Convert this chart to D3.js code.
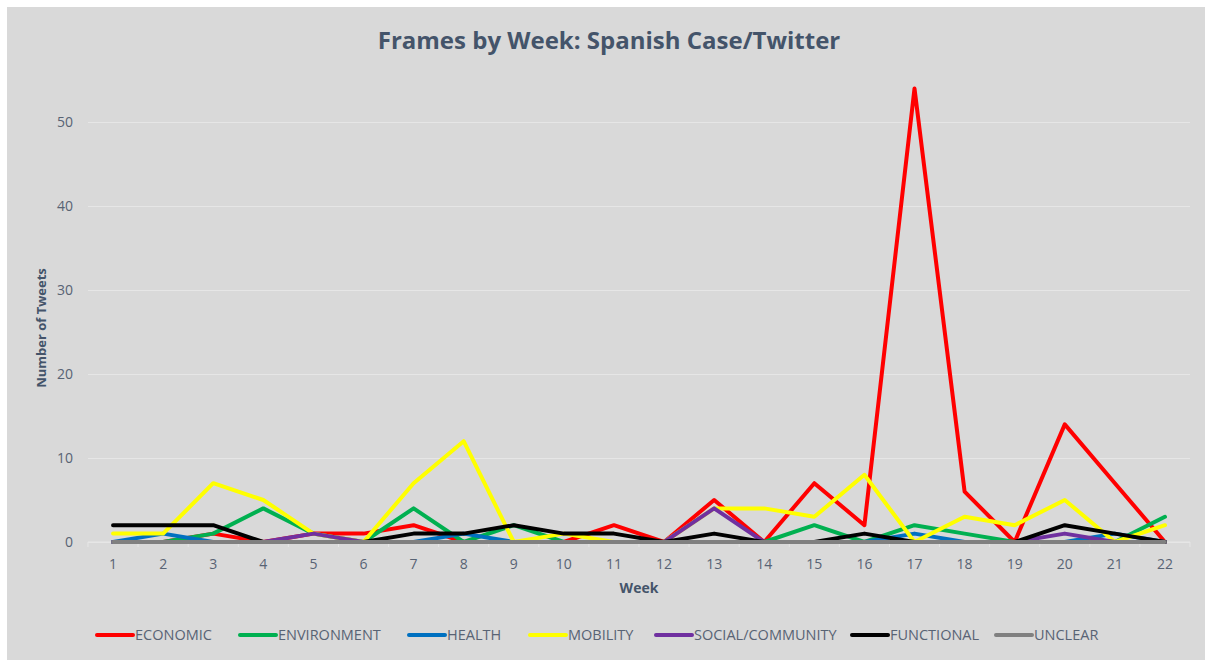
<!DOCTYPE html>
<html>
<head>
<meta charset="utf-8">
<script src="https://cdn.jsdelivr.net/npm/d3@7"></script>
<style>
  body { margin: 0; background: #fff; }
  text { font-family: "Open Sans", "Noto Sans", sans-serif; }
</style>
</head>
<body>
<div id="chart-area"></div>
<script>
// data
var weeks = d3.range(1, 23)
var yTicks = [0, 10, 20, 30, 40, 50]

var economic    = [0, 0, 1, 0, 1, 1, 2, 0, 0, 0, 2, 0, 5, 0, 7, 2, 54, 6, 0, 14, 7, 0]
var environment = [0, 0, 1, 4, 1, 0, 4, 0, 2, 0, 0, 0, 0, 0, 2, 0, 2, 1, 0, 0, 0, 3]
var health      = [0, 1, 0, 0, 0, 0, 0, 1, 0, 0, 0, 0, 0, 0, 0, 0, 1, 0, 0, 0, 1, 0]
var mobility    = [1, 1, 7, 5, 1, 0, 7, 12, 0, 1, 0, 0, 4, 4, 3, 8, 0, 3, 2, 5, 0, 2]
var social      = [0, 0, 0, 0, 1, 0, 0, 0, 0, 0, 0, 0, 4, 0, 0, 0, 0, 0, 0, 1, 0, 0]
var functional  = [2, 2, 2, 0, 0, 0, 1, 1, 2, 1, 1, 0, 1, 0, 0, 1, 0, 0, 0, 2, 1, 0]
var unclear     = [0, 0, 0, 0, 0, 0, 0, 0, 0, 0, 0, 0, 0, 0, 0, 0, 0, 0, 0, 0, 0, 0]

var series = [
	{ name: "ECONOMIC", values: economic, color: "#FF0000" },
	{ name: "ENVIRONMENT", values: environment, color: "#00B050" },
	{ name: "HEALTH", values: health, color: "#0070C0" },
	{ name: "MOBILITY", values: mobility, color: "#FFFF00" },
	{ name: "SOCIAL/COMMUNITY", values: social, color: "#7030A0" },
	{ name: "FUNCTIONAL", values: functional, color: "#000000" },
	{ name: "UNCLEAR", values: unclear, color: "#808080" }
]

var W = 1205, H = 660
var margin = { left: 88, right: 15, top: 122, bottom: 118 }
var width = W - margin.left - margin.right   // 1102
var height = H - margin.top - margin.bottom  // 420

var svg = d3.select("#chart-area")
	.append("svg")
	.attr("width", W)
	.attr("height", H)

svg.append("rect")
	.attr("x", 7).attr("y", 7)
	.attr("width", W - 7).attr("height", H - 7)
	.attr("fill", "#d9d9d9")

svg.append("text")
	.attr("x", 609).attr("y", 49)
	.attr("text-anchor", "middle")
	.attr("font-size", 24)
	.attr("font-weight", "bold")
	.attr("fill", "#44546A")
	.text("Frames by Week: Spanish Case/Twitter")

var g = svg.append("g")
	.attr("transform", "translate(" + margin.left + "," + margin.top + ")")

var x = d3.scaleBand()
	.domain(weeks)
	.range([0, width])

var y = d3.scaleLinear()
	.domain([0, 50])
	.range([height, 0])

// gridlines
g.append("g")
	.attr("class", "grid")
	.call(d3.axisLeft(y).tickValues(yTicks).tickSize(-width).tickFormat(""))
	.call(function (s) {
		s.select(".domain").remove()
		s.selectAll("line").attr("stroke", "#e6e6e6").attr("stroke-width", 1)
	})

// y labels
g.append("g")
	.call(d3.axisLeft(y).tickValues(yTicks).tickSize(0).tickPadding(15))
	.call(function (s) {
		s.select(".domain").remove()
		s.selectAll("text")
			.attr("font-size", 14)
			.attr("fill", "#586374")
			.style("font-family", "'Open Sans', sans-serif")
	})

// x axis: ticks between categories
var xAxis = g.append("g")
	.attr("transform", "translate(0," + height + ")")
xAxis.append("line")
	.attr("x1", 0).attr("x2", width)
	.attr("stroke", "#e6e6e6").attr("stroke-width", 1)
xAxis.selectAll(".tk")
	.data(weeks.concat([23]))
	.enter()
	.append("line")
	.attr("x1", function (d) { return d <= 22 ? x(d) : width })
	.attr("x2", function (d) { return d <= 22 ? x(d) : width })
	.attr("y1", 0).attr("y2", 5)
	.attr("stroke", "#e6e6e6")
xAxis.selectAll(".lbl")
	.data(weeks)
	.enter()
	.append("text")
	.attr("x", function (d) { return x(d) + x.bandwidth() / 2 })
	.attr("y", 27)
	.attr("text-anchor", "middle")
	.attr("font-size", 14)
	.attr("fill", "#586374")
	.text(function (d) { return d })

svg.append("text")
	.attr("x", 639).attr("y", 593)
	.attr("text-anchor", "middle")
	.attr("font-size", 14)
	.attr("font-weight", "bold")
	.attr("fill", "#44546A")
	.text("Week")

svg.append("text")
	.attr("transform", "translate(46,328) rotate(-90)")
	.attr("text-anchor", "middle")
	.attr("font-size", 13)
	.attr("font-weight", "bold")
	.attr("fill", "#44546A")
	.text("Number of Tweets")

var line = d3.line()
	.x(function (d, i) { return x(weeks[i]) + x.bandwidth() / 2 })
	.y(function (d) { return y(d) })

g.selectAll(".series")
	.data(series)
	.enter()
	.append("path")
	.attr("d", function (d) { return line(d.values) })
	.attr("fill", "none")
	.attr("stroke", function (d) { return d.color })
	.attr("stroke-width", 4)
	.attr("stroke-linejoin", "round")
	.attr("stroke-linecap", "round")

// legend
var legendX = [97, 240, 409, 530, 656, 852, 996]
var lg = svg.selectAll(".legend")
	.data(series)
	.enter()
	.append("g")
	.attr("transform", function (d, i) { return "translate(" + legendX[i] + ",635)" })
lg.append("line")
	.attr("x1", 0).attr("x2", 36)
	.attr("stroke", function (d) { return d.color })
	.attr("stroke-width", 4)
	.attr("stroke-linecap", "round")
lg.append("text")
	.attr("x", 38).attr("y", 5)
	.attr("font-size", 14.5)
	.attr("fill", "#586374")
	.text(function (d) { return d.name })
</script>
</body>
</html>
